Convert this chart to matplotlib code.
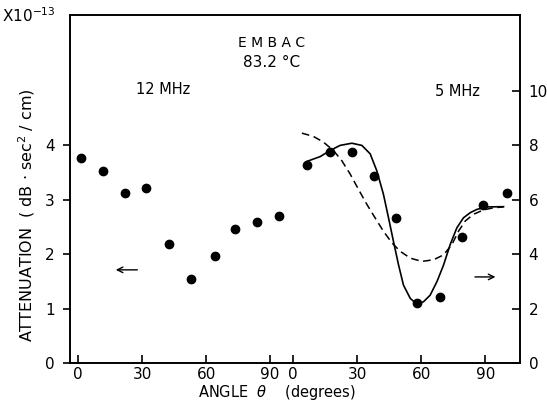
import matplotlib
matplotlib.use("Agg")
import matplotlib.pyplot as plt

# angle offset of the 5 MHz panel on the shared x axis
OFF = 100.8

# 12 MHz data (left axis, x10^-13 dB sec^2/cm)
ang_12 = [1.3, 11.9, 22.0, 32.0, 42.8, 53.0, 64.0, 73.6, 84.0, 94.0]
att_12 = [3.76, 3.52, 3.13, 3.22, 2.18, 1.55, 1.96, 2.46, 2.59, 2.70]

# 5 MHz data (right axis)
ang_5 = [6.4, 17.3, 27.5, 37.7, 48.0, 58.0, 69.0, 79.0, 89.0, 100.0]
att_5 = [7.28, 7.73, 7.73, 6.85, 5.33, 2.22, 2.41, 4.63, 5.80, 6.23]

# solid curve (5 MHz)
sol_ang = [6.4, 12.7, 17.3, 22.0, 27.5, 32.2, 36.1, 39.2, 42.3, 44.7, 47.0, 49.4,
           51.7, 54.9, 58.0, 61.1, 64.2, 67.4, 70.5, 73.6, 76.7, 79.8, 83.0, 86.1,
           90.8, 98.6]
sol_att = [7.40, 7.58, 7.80, 7.99, 8.07, 7.99, 7.68, 7.06, 6.20, 5.33, 4.47, 3.60,
           2.86, 2.37, 2.16, 2.25, 2.49, 2.99, 3.60, 4.35, 4.96, 5.33, 5.52, 5.64,
           5.73, 5.74]

# dashed curve (5 MHz)
dash_ang = [4.1, 9.5, 14.2, 18.9, 22.8, 26.7, 30.6, 34.5, 38.4, 42.3, 46.3, 50.2,
            54.9, 60.3, 65.8, 70.5, 74.4, 77.5, 80.6, 84.5, 89.2, 93.9, 98.6]
dash_att = [8.44, 8.32, 8.11, 7.80, 7.43, 6.94, 6.38, 5.83, 5.33, 4.84, 4.41, 4.10,
            3.85, 3.73, 3.79, 3.97, 4.35, 4.84, 5.21, 5.46, 5.62, 5.70, 5.73]

tick_pos = [0, 30, 60, 90, OFF, OFF + 30, OFF + 60, OFF + 90]
tick_lab = ["0", "30", "60", "90", "0", "30", "60", "90"]

plt.rcParams["font.family"] = ["DejaVu Sans"]
fig = plt.figure(figsize=(5.47, 4.04), dpi=100)
ax = fig.add_axes([0.128, 0.1015, 0.823, 0.8615])
ax2 = ax.twinx()

ax.set_xlim(-3.75, 207.2)
ax.set_ylim(0, 6.39)
ax2.set_ylim(0, 12.78)

ax.plot(ang_12, att_12, "o", color="black", ms=6)
x5 = [a + OFF for a in ang_5]
ax2.plot(x5, att_5, "o", color="black", ms=6)
ax2.plot([a + OFF for a in sol_ang], sol_att, "-", color="black", lw=1.2)
ax2.plot([a + OFF for a in dash_ang], dash_att, "--", color="black", lw=1.1,
         dashes=(5, 3))

ax.set_xticks(tick_pos)
ax.set_xticklabels(tick_lab, fontsize=11)
ax.set_yticks([0, 1, 2, 3, 4])
ax.set_yticklabels(["0", "1", "2", "3", "4"], fontsize=11)
ax2.set_yticks([0, 2, 4, 6, 8, 10])
ax2.set_yticklabels(["0", "2", "4", "6", "8", "10"], fontsize=11)

ax.tick_params(axis="x", direction="in", length=6, width=1.2, pad=3)
ax.tick_params(axis="y", direction="out", length=5, width=1.2, pad=6)
ax2.tick_params(axis="y", direction="in", length=6, width=1.2, pad=6)
for a in (ax, ax2):
    for s in a.spines.values():
        s.set_linewidth(1.2)

ax.set_xlabel(r"ANGLE  $\theta$    (degrees)", fontsize=10.5, va="center")
ax.xaxis.set_label_coords(0.46, -0.086)
ax.set_ylabel(r"ATTENUATION  ( dB $\cdot$ sec$^2$ / cm)", fontsize=11.5,
              va="center", ha="center")
ax.yaxis.set_label_coords(-0.096, 0.425)

fig.text(0.004, 0.962, r"X10$^{-13}$", fontsize=11, ha="left", va="center")

ax.text(90.5, 5.87, "E M B A C", fontsize=10, ha="center", va="center")
ax.text(90.5, 5.52, "83.2 °C", fontsize=11, ha="center", va="center")
ax.text(39.8, 5.03, "12 MHz", fontsize=10.5, ha="center", va="center")
ax.text(177.7, 4.99, "5 MHz", fontsize=10.5, ha="center", va="center")

ax.annotate("", xy=(16.4, 1.71), xytext=(29.1, 1.71),
            arrowprops=dict(arrowstyle="->", color="black", lw=1.0))
ax.annotate("", xy=(196.9, 1.58), xytext=(184.7, 1.58),
            arrowprops=dict(arrowstyle="->", color="black", lw=1.0))

fig.savefig("out.png", dpi=100)
